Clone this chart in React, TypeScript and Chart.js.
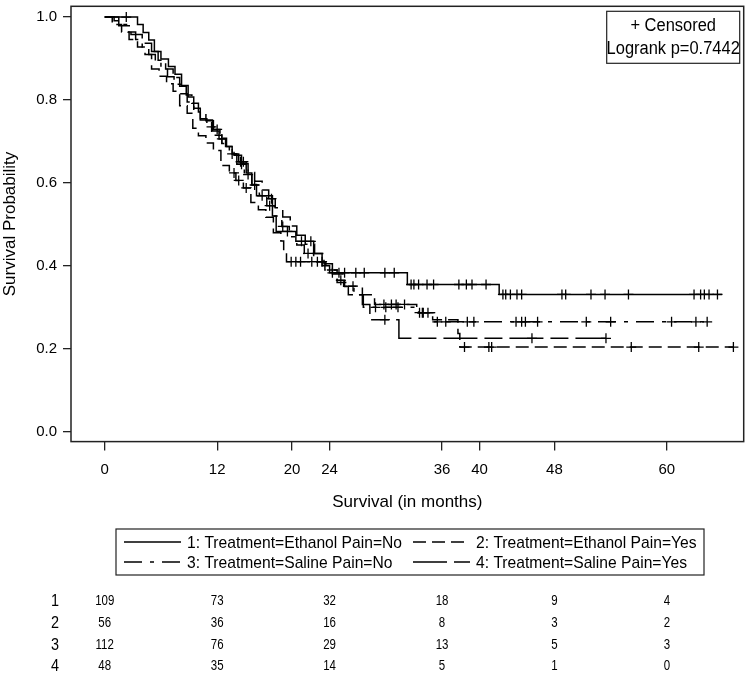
import React, { useEffect, useRef } from "react";
import { Chart, registerables } from "chart.js";

Chart.register(...registerables);

const FONT = '"Liberation Sans", Arial, sans-serif';

// ---------- data ----------
const xTickValues = [0, 12, 20, 24, 36, 40, 48, 60];
const yTickValues = [0, 0.2, 0.4, 0.6, 0.8, 1.0];
const xTitle = "Survival (in months)";
const yTitle = "Survival Probability";
const seriesLabels = [
  "1: Treatment=Ethanol Pain=No",
  "2: Treatment=Ethanol Pain=Yes",
  "3: Treatment=Saline Pain=No",
  "4: Treatment=Saline Pain=Yes",
];
const noteLines = ["+ Censored", "Logrank p=0.7442"];

// Series 1: Ethanol, Pain=No
const s1Times = [0, 3.5, 4.1, 4.7, 5.3, 6.0, 6.8, 7.5, 8.2, 8.9, 9.5, 10.2, 11.5, 12.2, 12.9, 13.6, 14.3, 15.1, 15.7, 16.2, 17.9, 18.3, 20.4, 22.3, 23.2, 24.0, 32.3, 42.1, 65.9];
const s1Surv = [1, 0.982, 0.963, 0.945, 0.917, 0.899, 0.881, 0.862, 0.835, 0.807, 0.78, 0.752, 0.725, 0.706, 0.688, 0.67, 0.651, 0.624, 0.596, 0.569, 0.52, 0.483, 0.459, 0.43, 0.4, 0.383, 0.355, 0.331, 0.331];
const s1Censored = [2.3, 12.5, 14.5, 14.8, 16.8, 19.5, 21.0, 22.0, 24.3, 25.0, 25.6, 26.8, 27.7, 29.9, 30.9, 32.7, 33.0, 33.5, 34.4, 35.1, 37.8, 38.6, 39.2, 40.7, 42.5, 42.8, 43.3, 44.0, 44.5, 48.8, 49.2, 51.9, 53.4, 55.9, 62.9, 63.6, 64.0, 64.5, 65.4];

// Series 2: Ethanol, Pain=Yes
const s2Times = [0, 0.8, 1.8, 2.6, 3.5, 4.3, 5.0, 5.8, 6.6, 7.3, 8.0, 8.8, 9.4, 10.0, 10.8, 11.6, 12.4, 13.3, 14.0, 14.8, 15.6, 16.4, 17.2, 18.0, 18.8, 19.1, 19.4, 23.6, 24.8, 26.0, 28.8, 33.3, 35.0, 37.7, 37.9, 67.1];
const s2Surv = [1, 0.982, 0.964, 0.946, 0.928, 0.91, 0.875, 0.857, 0.839, 0.821, 0.786, 0.768, 0.732, 0.714, 0.696, 0.678, 0.642, 0.624, 0.606, 0.588, 0.553, 0.535, 0.517, 0.48, 0.46, 0.435, 0.41, 0.39, 0.36, 0.33, 0.307, 0.287, 0.27, 0.237, 0.204, 0.204];
const s2Censored = [13.8, 14.3, 15.1, 19.9, 20.4, 20.9, 22.1, 22.7, 23.2, 29.8, 30.6, 31.1, 32.0, 33.6, 34.0, 38.4, 41.0, 41.3, 56.2, 63.4, 67.1];

// Series 3: Saline, Pain=No
const s3Times = [0, 1.0, 1.8, 2.5, 3.3, 4.0, 4.7, 5.4, 6.0, 6.7, 7.4, 8.1, 8.8, 9.5, 10.2, 10.9, 11.7, 12.5, 13.3, 14.1, 14.9, 15.7, 16.5, 17.3, 18.1, 18.9, 19.7, 20.5, 21.3, 22.3, 23.5, 24.8, 25.6, 26.6, 27.6, 33.5, 35.2, 64.3];
const s3Surv = [1, 0.991, 0.982, 0.964, 0.946, 0.928, 0.91, 0.892, 0.874, 0.856, 0.838, 0.815, 0.795, 0.775, 0.755, 0.735, 0.715, 0.695, 0.67, 0.645, 0.62, 0.595, 0.57, 0.545, 0.52, 0.495, 0.47, 0.45, 0.43, 0.41, 0.39, 0.365, 0.35, 0.33, 0.3, 0.287, 0.265, 0.265];
const s3Censored = [11.4, 13.6, 14.6, 15.3, 16.0, 17.6, 19.0, 21.7, 25.2, 28.9, 30.0, 31.3, 33.9, 34.5, 35.5, 36.4, 38.7, 39.4, 43.9, 44.5, 44.9, 46.2, 51.4, 54.0, 60.5, 63.1, 64.3];

// Series 4: Saline, Pain=Yes
const s4Times = [0, 1.5, 2.8, 4.0, 5.0, 5.7, 6.5, 7.3, 8.0, 8.7, 9.3, 10.0, 10.8, 11.6, 12.3, 13.0, 13.8, 14.6, 15.3, 16.0, 16.8, 17.5, 18.2, 19.0, 19.8, 20.5, 21.4, 22.4, 23.4, 24.3, 25.5, 27.5, 28.3, 31.4, 53.5];
const s4Surv = [1, 0.979, 0.958, 0.937, 0.917, 0.896, 0.875, 0.854, 0.833, 0.812, 0.792, 0.771, 0.75, 0.729, 0.708, 0.688, 0.667, 0.646, 0.625, 0.604, 0.583, 0.562, 0.54, 0.518, 0.496, 0.474, 0.452, 0.43, 0.405, 0.38, 0.351, 0.307, 0.27, 0.225, 0.225];
const s4Censored = [12.0, 17.8, 26.5, 29.9, 45.6, 53.5];

// Number at risk
const riskTimes = [0, 12, 24, 36, 48, 60];
const riskRowLabels = ["1", "2", "3", "4"];
const risk1 = [109, 73, 32, 18, 9, 4];
const risk2 = [56, 36, 16, 8, 3, 2];
const risk3 = [112, 76, 29, 13, 5, 3];
const risk4 = [48, 35, 14, 5, 1, 0];

// ---------- styles ----------
const dashStyles: number[][] = [[], [13, 6], [18, 8, 4, 8], [34, 7, 18, 7]];

function survAt(times: number[], surv: number[], t: number) {
  let v = surv[0];
  for (let i = 0; i < times.length; i++) if (times[i] <= t) v = surv[i];
  return v;
}

const curves = [
  { times: s1Times, surv: s1Surv, cens: s1Censored },
  { times: s2Times, surv: s2Surv, cens: s2Censored },
  { times: s3Times, surv: s3Surv, cens: s3Censored },
  { times: s4Times, surv: s4Surv, cens: s4Censored },
];
const riskRows = [risk1, risk2, risk3, risk4];

// narrow-looking text: draw with a horizontal squeeze
function narrowText(ctx: CanvasRenderingContext2D, text: string, x: number, y: number, size: number, sx: number, align: CanvasTextAlign) {
  ctx.save();
  ctx.font = `${size}px ${FONT}`;
  ctx.textBaseline = "middle";
  ctx.textAlign = align;
  ctx.fillStyle = "#000";
  ctx.translate(x, y);
  ctx.scale(sx, 1);
  ctx.fillText(text, 0, 0);
  ctx.restore();
}

const decorPlugin = {
  id: "decor",
  afterDraw(chart: any) {
    const { ctx, chartArea } = chart;
    const xs = chart.scales.x;
    ctx.save();
    // frame
    ctx.strokeStyle = "#222";
    ctx.lineWidth = 1.5;
    ctx.setLineDash([]);
    ctx.strokeRect(chartArea.left, chartArea.top, chartArea.right - chartArea.left, chartArea.bottom - chartArea.top);

    // censored / logrank box
    const bw = 133, bh = 52;
    const bx = chartArea.right - 4 - bw;
    const by = chartArea.top + 5;
    ctx.lineWidth = 1.2;
    ctx.strokeRect(bx, by, bw, bh);
    narrowText(ctx, noteLines[0], bx + bw / 2, by + 15, 18, 0.915, "center");
    narrowText(ctx, noteLines[1], bx + bw / 2, by + 38, 18, 0.915, "center");

    // legend box
    const lx = 116, ly = 529, lw = 588, lh = 46;
    ctx.lineWidth = 1.2;
    ctx.strokeRect(lx, ly, lw, lh);
    const cols = [124, 413];
    const rows = [543, 563];
    for (let i = 0; i < 4; i++) {
      const cx = cols[i % 2];
      const cy = rows[Math.floor(i / 2)];
      ctx.beginPath();
      ctx.setLineDash(dashStyles[i]);
      ctx.lineWidth = 1.5;
      ctx.strokeStyle = "#000";
      ctx.moveTo(cx, cy - 1);
      ctx.lineTo(cx + 57, cy - 1);
      ctx.stroke();
      ctx.setLineDash([]);
      narrowText(ctx, seriesLabels[i], cx + 63, cy, 17, 0.92, "left");
    }

    // number at risk table
    for (let r = 0; r < riskRows.length; r++) {
      const y = 601.5 + r * 21.7;
      narrowText(ctx, riskRowLabels[r], 55, y, 17, 0.85, "center");
      riskRows[r].forEach((v, j) => {
        narrowText(ctx, String(v), xs.getPixelForValue(riskTimes[j]), y, 14, 0.82, "center");
      });
    }
    ctx.restore();
  },
};

export default function App() {
  const ref = useRef<HTMLCanvasElement>(null);
  useEffect(() => {
    const canvas = ref.current!;
    const datasets: any[] = [];
    curves.forEach((c, i) => {
      datasets.push({
        label: seriesLabels[i],
        data: c.times.map((t, k) => ({ x: t, y: c.surv[k] })),
        showLine: true,
        stepped: true,
        borderColor: "#000",
        borderWidth: 1.5,
        borderDash: dashStyles[i],
        pointRadius: 0,
        fill: false,
      });
      datasets.push({
        label: seriesLabels[i] + " (censored)",
        data: c.cens.map((t) => ({ x: t, y: survAt(c.times, c.surv, t) })),
        showLine: false,
        pointStyle: "cross",
        pointRadius: 5,
        pointBorderWidth: 1.3,
        pointBorderColor: "#000",
        borderColor: "#000",
        backgroundColor: "#000",
      });
    });

    const chart = new Chart(canvas, {
      type: "line",
      data: { datasets },
      options: {
        animation: false,
        responsive: false,
        devicePixelRatio: 1,
        events: [],
        layout: { padding: { left: 0, top: 4, right: 5, bottom: 165 } },
        plugins: { legend: { display: false }, tooltip: { enabled: false } },
        scales: {
          x: {
            type: "linear",
            min: -3.6,
            max: 68.2,
            afterBuildTicks: (s: any) => {
              s.ticks = xTickValues.map((v) => ({ value: v }));
            },
            afterFit: (s: any) => {
              s.height = 71.4;
              s.paddingLeft = 0;
              s.paddingRight = 0;
            },
            ticks: {
              autoSkip: false,
              maxRotation: 0,
              color: "#000",
              padding: 10,
              font: { family: FONT, size: 15 },
              callback: (v: any) => String(v),
            },
            grid: { drawOnChartArea: false, drawTicks: true, tickLength: 9, color: "#222", lineWidth: 1.3 },
            border: { display: false },
            title: { display: true, text: xTitle, color: "#000", font: { family: FONT, size: 17 }, padding: { top: 0, bottom: 0 } },
          },
          y: {
            type: "linear",
            min: -0.024,
            max: 1.026,
            afterBuildTicks: (s: any) => {
              s.ticks = yTickValues.map((v) => ({ value: v }));
            },
            afterFit: (s: any) => {
              s.width = 71;
              s.paddingTop = 0;
              s.paddingBottom = 0;
            },
            ticks: {
              color: "#000",
              padding: 6,
              font: { family: FONT, size: 15 },
              callback: (v: any) => Number(v).toFixed(1),
            },
            grid: { drawOnChartArea: false, drawTicks: true, tickLength: 8, color: "#222", lineWidth: 1.3 },
            border: { display: false },
            title: { display: true, text: yTitle, color: "#000", font: { family: FONT, size: 17 }, padding: { top: 0, bottom: 0 } },
          },
        },
      } as any,
      plugins: [decorPlugin],
    });
    return () => chart.destroy();
  }, []);

  return (
    <div style={{ position: "fixed", left: 0, top: 0, width: 750, height: 678, background: "#fff" }}>
      <canvas ref={ref} width={750} height={678} style={{ display: "block", width: 750, height: 678 }} />
    </div>
  );
}
